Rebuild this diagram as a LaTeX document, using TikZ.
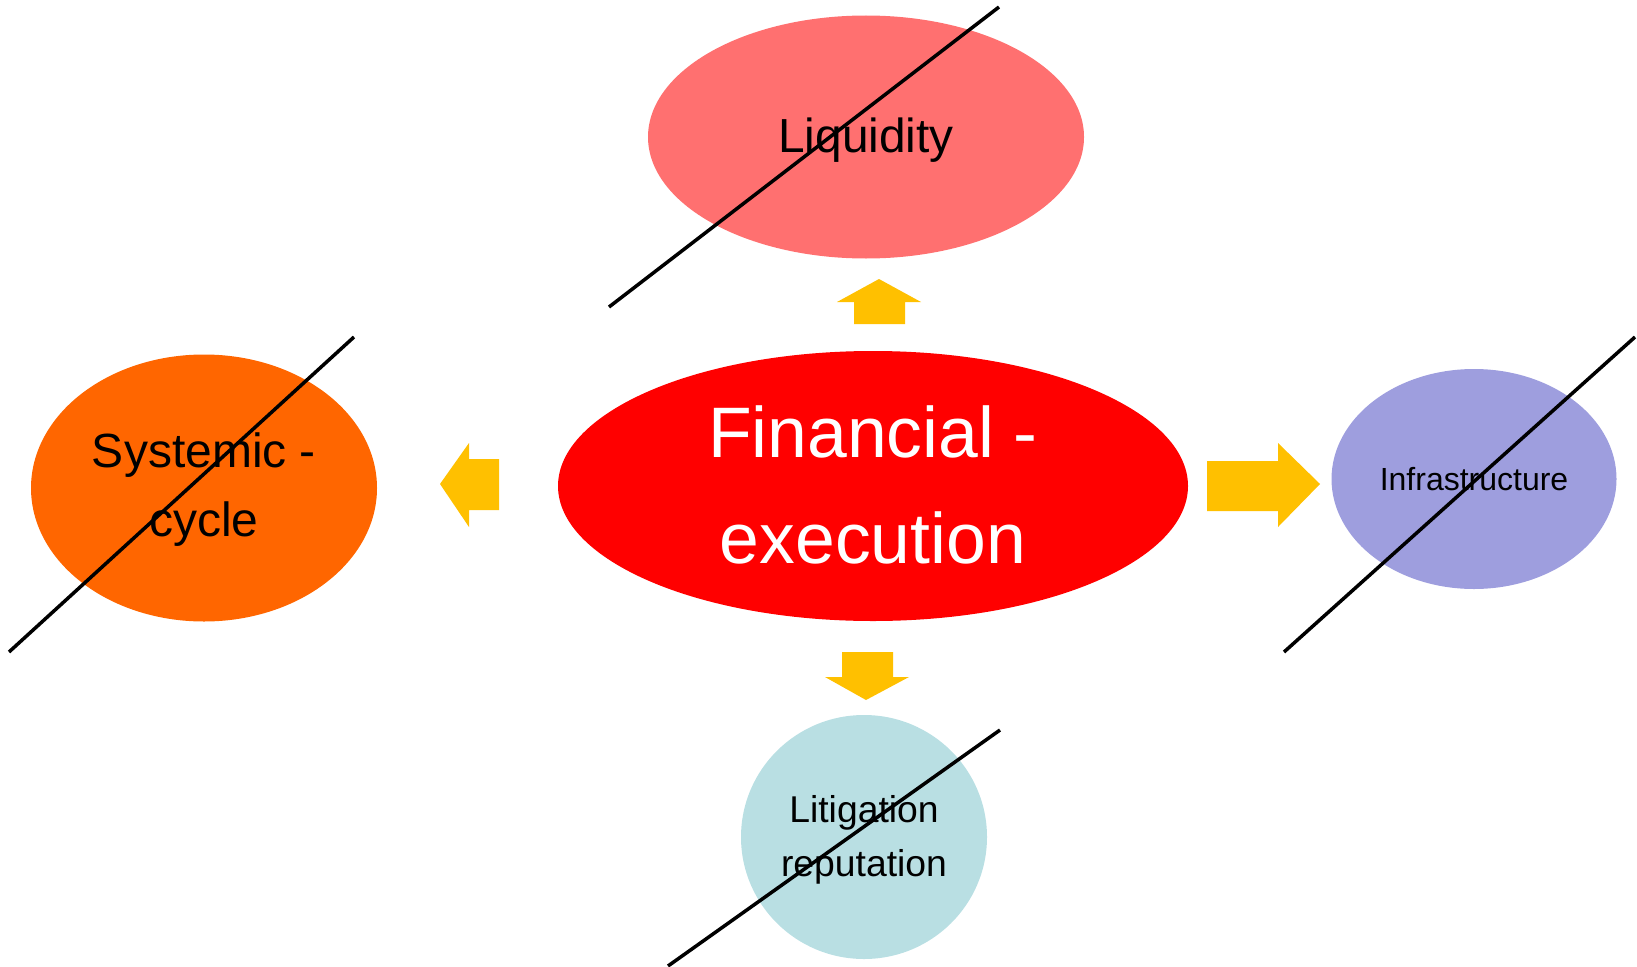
\documentclass[tikz,border=0pt]{standalone}
\usepackage{fontspec}
\setmainfont{Liberation Sans}
\usetikzlibrary{shapes.geometric}
\definecolor{liqcol}{RGB}{255,112,112}
\definecolor{fincol}{RGB}{255,0,0}
\definecolor{syscol}{RGB}{255,102,0}
\definecolor{infcol}{RGB}{158,158,222}
\definecolor{litcol}{RGB}{185,223,227}
\definecolor{arrcol}{RGB}{255,192,0}
\tikzset{
  blob/.style={ellipse, draw=none, inner sep=0pt, align=center},
  strike/.style={draw=black, line width=3.5pt},
  blockarrow/.style={fill=arrcol, draw=none}
}
\begin{document}
\begin{tikzpicture}[x=1pt,y=-1pt]
\useasboundingbox (0,0) rectangle (1637,966);
% ellipses
\node[blob, fill=liqcol, minimum width=436pt, minimum height=243pt] (liq) at (866,137) {};
\node[font=\fontsize{47.8}{55}\selectfont] (liqt) at (866,140) {Liquidity};
\node[blob, fill=fincol, minimum width=630pt, minimum height=270pt] (fin) at (873,486) {};
\node[text=white, align=center, font=\fontsize{71.5}{106}\selectfont] (fint) at (873,485) {Financial -\\execution};
\node[blob, fill=syscol, minimum width=346pt, minimum height=267pt] (sys) at (204,488) {};
\node[align=center, font=\fontsize{48}{69}\selectfont] (syst) at (204,490) {Systemic -\\cycle};
\node[blob, fill=infcol, minimum width=285pt, minimum height=220pt] (inf) at (1474,479) {};
\node[font=\fontsize{32}{38}\selectfont] (inft) at (1474,479) {Infrastructure};
\node[blob, fill=litcol, minimum width=246pt, minimum height=244pt] (lit) at (864,837) {};
\node[align=center, font=\fontsize{37.3}{54}\selectfont] (litt) at (864,840) {Litigation\\reputation};
% block arrows
\fill[blockarrow] (879,279) -- (921,302) -- (905,302) -- (905,324) -- (854,324) -- (854,302) -- (837,302) -- cycle;
\fill[blockarrow] (440,484) -- (469,443) -- (469,459) -- (499,459) -- (499,510) -- (469,510) -- (469,527) -- cycle;
\fill[blockarrow] (1320,484) -- (1278,443) -- (1278,461) -- (1207,461) -- (1207,511) -- (1278,511) -- (1278,527) -- cycle;
\fill[blockarrow] (866,700) -- (909,677) -- (893,677) -- (893,652) -- (842,652) -- (842,677) -- (825,677) -- cycle;
% strike-through lines
\coordinate (liqA) at (609,307);
\coordinate (liqB) at (999,7);
\coordinate (sysA) at (9,652);
\coordinate (sysB) at (354,337);
\coordinate (infA) at (1284,652);
\coordinate (infB) at (1635,337);
\coordinate (litA) at (668,966);
\coordinate (litB) at (1000,730);
\draw[strike] (liqA) -- (liqB);
\draw[strike] (sysA) -- (sysB);
\draw[strike] (infA) -- (infB);
\draw[strike] (litA) -- (litB);
\end{tikzpicture}
\end{document}
